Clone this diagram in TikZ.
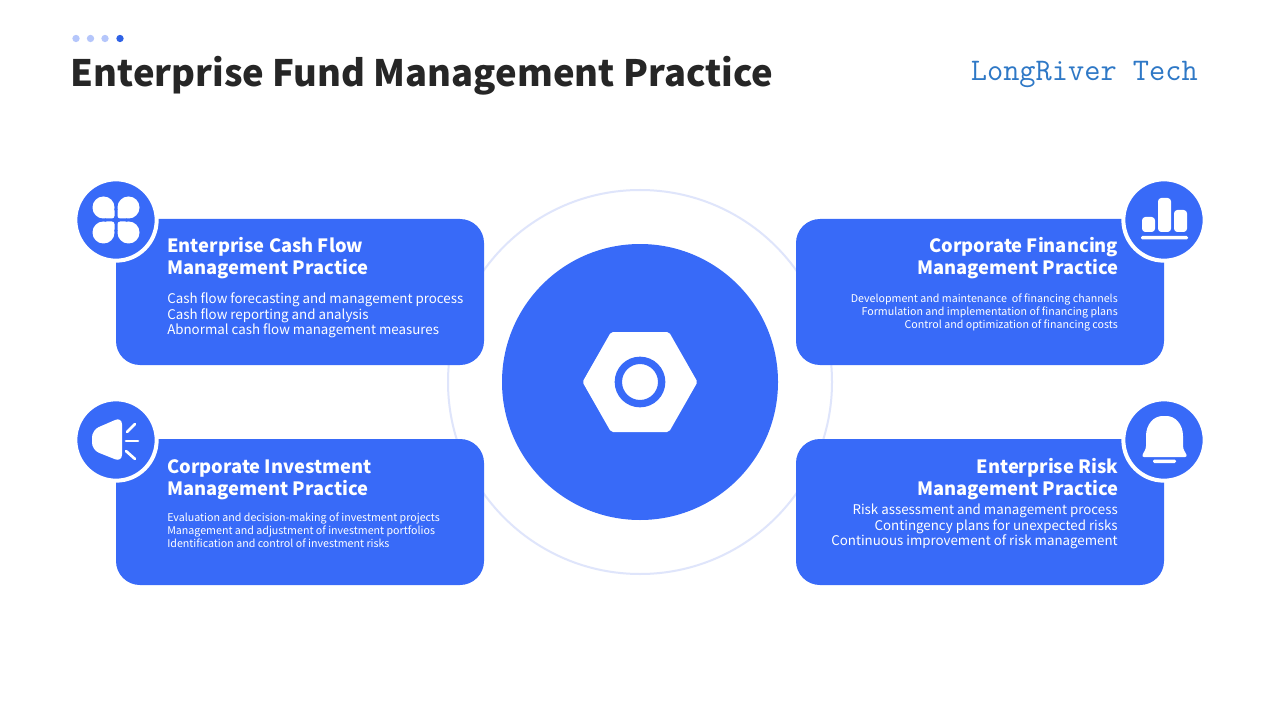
\documentclass[tikz,border=0pt]{standalone}
\usepackage{fontspec}
\setmainfont{Noto Sans CJK SC}
\usepackage{xcolor}
\usetikzlibrary{shapes.geometric}
\definecolor{cardblue}{HTML}{386AF8}
\definecolor{ringblue}{HTML}{DFE5FB}
\definecolor{dotblue}{HTML}{B5C6FB}
\definecolor{dotdark}{HTML}{2F62E6}
\definecolor{inkdark}{HTML}{262626}
\definecolor{brandblue}{HTML}{2E78C6}
\tikzstyle{card} = [rectangle, rounded corners=18pt, minimum width=276pt, minimum height=109.5pt, inner sep=0pt, fill=cardblue]
\tikzstyle{badge} = [circle, minimum size=61pt, inner sep=0pt, fill=cardblue, draw=white, line width=3pt]
\tikzstyle{head} = [inner sep=0pt, text=white, font=\fontsize{13.75}{16.5}\selectfont\bfseries]
\tikzstyle{lines} = [inner sep=0pt, text=white, font=\fontsize{10}{11.6}\selectfont]
\tikzstyle{smalllines} = [inner sep=0pt, text=white, font=\fontsize{8}{9.75}\selectfont]
\tikzstyle{dot} = [circle, minimum size=5.5pt, inner sep=0pt, fill=dotblue]
\tikzstyle{ray} = [white, line width=2pt, line cap=round]
\begin{document}
\begin{tikzpicture}[x=0.75pt,y=-0.75pt]
		\useasboundingbox (0,0) rectangle (1280,720);
		\fill [white] (0,0) rectangle (1280,720);
		
		\node (dotA) [dot] at (76,38.5) {};
		\node (dotB) [dot] at (90.5,38.5) {};
		\node (dotC) [dot] at (105,38.5) {};
		\node (dotD) [dot, fill=dotdark] at (120,38.5) {};
		\node (title) [inner sep=0pt, anchor=west, text=inkdark, font=\fontsize{27.3}{32}\selectfont\bfseries] at (70.5,76) {Enterprise Fund Management Practice};
		\node (brand) [inner sep=0pt, anchor=east, text=brandblue, font=\fontsize{23.6}{25}\selectfont\ttfamily] at (1198,74) {LongRiver Tech};
		
		\node (ring) [circle, minimum size=288pt, inner sep=0pt, draw=ringblue, line width=1.5pt] at (640,382) {};
		\node (hub) [circle, minimum size=207pt, inner sep=0pt, fill=cardblue] at (640,382) {};
		\fill [white, rounded corners=1.5pt] (582.5,382) -- (611,332) -- (669,332) -- (697.5,382) -- (669,432) -- (611,432) -- cycle;
		\node (hole) [circle, minimum size=32.5pt, inner sep=0pt, draw=cardblue, line width=5.5pt] at (640,382) {};
		
		\node (cashCard) [card] at (300,292) {};
		\node (financeCard) [card] at (980,292) {};
		\node (investCard) [card] at (300,512) {};
		\node (riskCard) [card] at (980,512) {};
		
		\node (cashBadge) [badge] at (116,220) {};
		\node (financeBadge) [badge] at (1164,220) {};
		\node (investBadge) [badge] at (116,440) {};
		\node (riskBadge) [badge] at (1164,440) {};
		
		\node (cashHead) [head, anchor=north west, align=left] at (167,237) {Enterprise Cash Flow\\Management Practice};
		\node (cashText) [lines, anchor=north west, align=left] at (167,292.5) {Cash flow forecasting and management process\\Cash flow reporting and analysis\\Abnormal cash flow management measures};
		\node (financeHead) [head, anchor=north east, align=right] at (1118.5,237) {Corporate Financing\\Management Practice};
		\node (financeText) [smalllines, anchor=north east, align=right] at (1118,294) {Development and maintenance\ \ of financing channels\\Formulation and implementation of financing plans\\Control and optimization of financing costs};
		\node (investHead) [head, anchor=north west, align=left] at (167,459) {Corporate Investment\\Management Practice};
		\node (investText) [smalllines, anchor=north west, align=left] at (167,513) {Evaluation and decision-making of investment projects\\Management and adjustment of investment portfolios\\Identification and control of investment risks};
		\node (riskHead) [head, anchor=north east, align=right] at (1118.5,458) {Enterprise Risk\\Management Practice};
		\node (riskText) [lines, anchor=north east, align=right] at (1118,504) {Risk assessment and management process\\Contingency plans for unexpected risks\\Continuous improvement of risk management};
		
		% clover
		\foreach \sx/\sy in {1/1,-1/1,1/-1,-1/-1} {
			\begin{scope}[shift={(116,220)}, xscale=\sx, yscale=\sy]
				\fill [white, rounded corners=8.2pt] (1.5,1.5) rectangle (23.5,23.5);
				\fill [white, rounded corners=2pt] (1.5,1.5) rectangle (12,12);
			\end{scope}
		}
		% bars
		\fill [white, rounded corners=2.5pt] (1142,217) rectangle (1155,232);
		\fill [white, rounded corners=2.5pt] (1158,198) rectangle (1171,232);
		\fill [white, rounded corners=2.5pt] (1174,210) rectangle (1187,232);
		\fill [white, rounded corners=1pt] (1141,236) rectangle (1188,239.5);
		% speaker
		\fill [white, rounded corners=5.5pt] (122,417) -- (92,430) -- (92,450) -- (122,462) -- cycle;
		\draw [ray] (127,432) -- (135,424);
		\draw [ray] (126,441) -- (138,441);
		\draw [ray] (126,451) -- (135,459);
		% bell
		\fill [white, rounded corners=1.5pt] (1142,457) .. controls (1143,453) and (1146,450) .. (1146,444) -- (1146,438) .. controls (1146,424) and (1154,416) .. (1164.5,416) .. controls (1175,416) and (1183,424) .. (1183,438) -- (1183,444) .. controls (1183,450) and (1186,453) .. (1187,457) -- cycle;
		\fill [white, rounded corners=1pt] (1153,459.5) rectangle (1176,463);
	\end{tikzpicture}
\end{document}
